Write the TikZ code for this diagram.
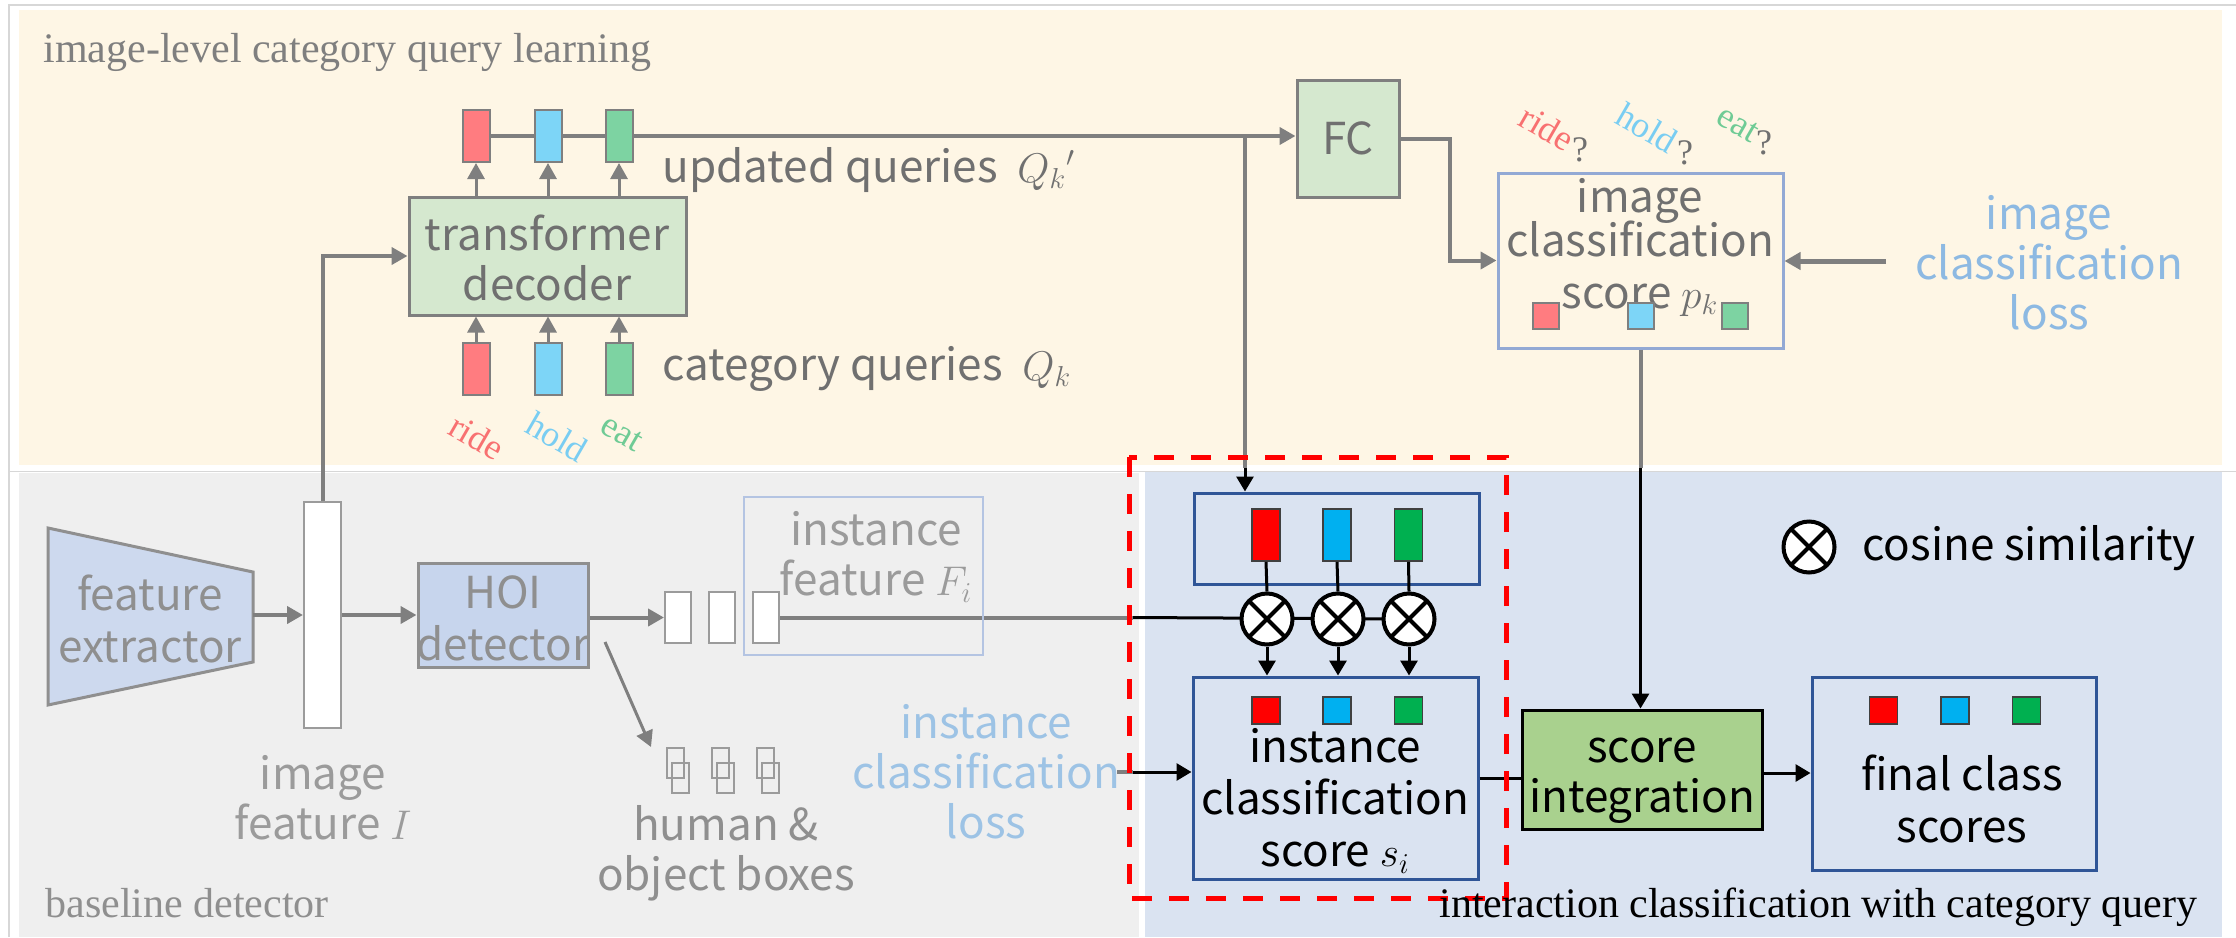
\documentclass[tikz,border=0pt]{standalone}
\usepackage{fontspec}
\usetikzlibrary{arrows.meta,fit,calc}
\newfontfamily\mysansfam{Noto Sans CJK SC}
\newfontfamily\myseriffam{Liberation Serif}
\newcommand\mysans{\mysansfam\fontsize{22}{25}\selectfont}
\newcommand\myserif{\myseriffam\fontsize{21}{24}\selectfont}
\newcommand\mysmall{\myseriffam\fontsize{18}{20}\selectfont}
\definecolor{cream}{RGB}{254,246,229}
\definecolor{bggray}{RGB}{239,239,239}
\definecolor{bgblue}{RGB}{218,227,241}
\definecolor{framec}{RGB}{215,215,215}
\definecolor{gline}{RGB}{127,127,127}
\definecolor{gtop}{RGB}{112,112,112}
\definecolor{gbase}{RGB}{143,143,143}
\definecolor{glight}{RGB}{155,155,155}
\definecolor{lossA}{RGB}{141,185,226}
\definecolor{lossB}{RGB}{157,195,229}
\definecolor{lgreen}{RGB}{213,232,207}
\definecolor{sgreen}{RGB}{169,209,142}
\definecolor{fefill}{RGB}{205,217,238}
\definecolor{hoifill}{RGB}{199,213,237}
\definecolor{qred}{RGB}{255,124,128}
\definecolor{qblue}{RGB}{125,213,247}
\definecolor{qgreen}{RGB}{125,211,162}
\definecolor{tred}{RGB}{248,113,113}
\definecolor{tblue}{RGB}{121,205,242}
\definecolor{tgreen}{RGB}{111,203,149}
\definecolor{dblue}{RGB}{47,85,151}
\definecolor{icsb}{RGB}{147,169,212}
\definecolor{ifb}{RGB}{180,196,226}
\definecolor{sred}{RGB}{255,0,0}
\definecolor{sblue}{RGB}{0,176,240}
\definecolor{sgr}{RGB}{0,176,80}
\pgfdeclarelayer{bg}
\pgfdeclarelayer{back}
\pgfsetlayers{bg,back,main}
\tikzset{
  gl/.style={draw=gline, line width=2pt},
  garrow/.style={gl, -{Triangle[length=8pt,width=8.5pt]}},
  bl/.style={draw=black, line width=1.5pt},
  barrow/.style={bl, -{Triangle[length=7.5pt,width=8.5pt]}},
  qbar/.style={draw=gline, line width=1pt, inner sep=0pt, minimum width=13.5pt, minimum height=26pt},
  sbar/.style={draw=black!75, line width=0.8pt, inner sep=0pt},
  gbox/.style={draw=gline, line width=1.5pt, fill=lgreen, inner sep=0pt},
  dbbox/.style={draw=dblue, line width=1.5pt, inner sep=0pt},
  ttop/.style={font=\mysans, text=gtop, align=center, inner sep=0pt},
  tbase/.style={font=\mysans, text=gbase, align=center, inner sep=0pt},
  tblack/.style={font=\mysans, text=black, align=center, inner sep=0pt},
  xcirc/.style={circle, draw=black, line width=2pt, fill=white, minimum size=25.5pt, inner sep=0pt,
    path picture={\draw[line width=2pt] (path picture bounding box.north west) -- (path picture bounding box.south east)
      (path picture bounding box.north east) -- (path picture bounding box.south west);}},
  icon/.style={draw=glight, line width=1pt},
}
\begin{document}
\begin{tikzpicture}[x=0.5pt,y=-0.5pt]
\useasboundingbox (0,0) rectangle (2236,937);
\begin{pgfonlayer}{bg}
\fill[white] (0,0) rectangle (2236,937);
\fill[cream] (19,10) rectangle (2222,465);
\fill[bggray] (19,473) rectangle (1139,937);
\fill[bgblue] (1145,472) rectangle (2222,937);
\draw[framec, line width=0.8pt] (9,937) -- (9,5) -- (2236,5);
\draw[framec, line width=0.8pt] (9,471.5) -- (2236,471.5);
\end{pgfonlayer}

% ---------- top panel ----------
\node[font=\myserif, text=gline, anchor=base west, inner sep=0pt] (ttl) at (43,62) {image-level category query learning};

\node[gbox, fit={(409,197)(686,315)}] (dec) {};
\node[ttop] (dect) at (547,258) {transformer\\decoder};
\foreach \n/\x/\c in {1/476/qred,2/548/qblue,3/619/qgreen}{
  \node[qbar, fill=\c] (u\n) at (\x,136) {};
  \node[qbar, fill=\c] (k\n) at (\x,368.5) {};
  \draw[garrow, line width=1.5pt] (dec.north -| u\n) -- (u\n.south);
  \draw[garrow, line width=1.5pt] (k\n.north) -- (dec.south -| k\n);
}
\node[ttop, anchor=base west] (uq) at (662,182) {updated queries \ $Q_k{}'$};
\node[ttop, anchor=base west] (cq) at (662,380) {category queries \ $Q_k$};
\node[font=\mysmall, text=tred, rotate=-30, inner sep=0pt] (lr) at (477,437) {ride};
\node[font=\mysmall, text=tblue, rotate=-30, inner sep=0pt] (lh) at (557,437) {hold};
\node[font=\mysmall, text=tgreen, rotate=-30, inner sep=0pt] (le) at (622,433) {eat};

\node[gbox, fit={(1297,80)(1399,197)}] (fc) {};
\node[ttop] (fct) at (1348,138) {FC};
\begin{pgfonlayer}{back}
\draw[garrow] (u1.east) -- (u1.east -| fc.west);
\end{pgfonlayer}
\coordinate (br) at (1245,136);
\coordinate (bsplit) at (1245,468);

\node[draw=icsb, line width=1.5pt, inner sep=0pt, fit={(1498,173)(1783,348)}] (ics) {};
\node[ttop] (icst) at (1640,247) {image\\[-3pt]classification\\[1pt]score $p_k$};
\node[qbar, fill=qred, minimum width=13pt, minimum height=13pt] (p1) at (1546,316) {};
\node[qbar, fill=qblue, minimum width=13pt, minimum height=13pt] (p2) at (1640.5,316) {};
\node[qbar, fill=qgreen, minimum width=13pt, minimum height=13pt] (p3) at (1735,316) {};
\draw[garrow] (fc.east) -- ++(49,0) |- (ics.west);

\node[font=\mysmall, text=tred, rotate=-30, inner sep=0pt] (qr) at (1547,128) {ride};
\node[font=\mysmall, text=gtop, inner sep=0pt] (qr2) at (1580,150) {?};
\node[font=\mysmall, text=tblue, rotate=-30, inner sep=0pt] (qh) at (1647,128) {hold};
\node[font=\mysmall, text=gtop, inner sep=0pt] (qh2) at (1685,153) {?};
\node[font=\mysmall, text=tgreen, rotate=-30, inner sep=0pt] (qe) at (1738,124) {eat};
\node[font=\mysmall, text=gtop, inner sep=0pt] (qe2) at (1764,143) {?};

\node[font=\mysans, text=lossA, align=center, inner sep=0pt] (iloss) at (2049,263) {image\\classification\\loss};
\coordinate (la) at (1886,261);
\draw[garrow, line width=2.5pt] (la) -- (ics.east |- la);

% ---------- baseline detector ----------
\draw[draw=gbase, line width=1.5pt, fill=fefill] (48,528) -- (253,572) -- (253,662) -- (48,705) -- cycle;
\node[tbase] (fe) at (150,619) {feature\\[1pt]extractor};
\coordinate (feR) at (253,615);
\node[draw=glight, line width=1pt, fill=white, inner sep=0pt, fit={(304,502)(341,728)}] (imf) {};
\draw[garrow] (feR) -- (feR -| imf.west);
\draw[garrow] (imf.north) |- (dec.west);
\node[draw=gbase, line width=1.5pt, fill=hoifill, inner sep=0pt, fit={(418,563)(588,667)}] (hoi) {};
\node[tbase] (hoit) at (503,618) {HOI\\[1pt]detector};
\draw[garrow] (imf.east |- feR) -- (hoi.west |- feR);
\node[tbase, text=glight] (imft) at (323,798) {image\\feature $I$};

\node[draw=ifb, line width=1pt, inner sep=0pt, fit={(744,497)(983,655)}] (ifbox) {};
\foreach \n/\x in {1/678,2/722,3/766}{
  \node[draw=glight, line width=1pt, fill=white, inner sep=0pt, minimum width=13pt, minimum height=25.5pt] (s\n) at (\x,617.5) {};
}
\node[tbase, text=glight] (ift) at (876,557) {instance\\feature $F_i$};
\draw[garrow] (hoi.east |- s1.west) -- (s1.west);
\coordinate (fsplit) at (1133,617.5);

\coordinate (d1) at (605,642);
\coordinate (d2) at (651,747);
\draw[garrow, line width=1.5pt] (d1) -- (d2);
\foreach \x in {667,712,757}{
  \draw[icon] (\x,748) rectangle ++(17,30);
  \draw[icon] (\x+5,763) rectangle ++(17,30);
}
\node[tbase] (hob) at (726,853) {human \&\\object boxes};
\node[font=\mysans, text=lossB, align=center, inner sep=0pt] (il) at (986,772) {instance\\classification\\loss};
\coordinate (lstart) at (1117,772);
\coordinate (lsplit) at (1133,772);
\node[font=\myserif, text=gbase, anchor=base west, inner sep=0pt] (bdt) at (45,917) {baseline detector};

% ---------- interaction classification ----------
\node[dbbox, fit={(1194,493)(1479,584)}] (emb) {};
\node[dbbox, fit={(1193,677)(1478,879)}] (inst) {};
\foreach \n/\x/\y/\c in {1/1266/1267/sred,2/1337/1338/sblue,3/1408.5/1409/sgr}{
  \node[sbar, fill=\c, minimum width=14pt, minimum height=26pt] (b\n) at (\x,535) {};
  \node[xcirc] (c\n) at (\y,619) {};
  \node[sbar, fill=\c, minimum width=14pt, minimum height=13.5pt] (q\n) at (\x,710.5) {};
  \draw[bl] (b\n.south) -- (c\n.north);
  \draw[barrow] (c\n.south) -- (c\n.south |- inst.north);
}
\begin{pgfonlayer}{back}
\draw[gl] (s3.east) -- (fsplit);
\draw[bl] (fsplit) -- (c3.center);
\end{pgfonlayer}
\draw[gl] (lstart) -- (lsplit);
\draw[barrow] (lsplit) -- (inst.west |- lsplit);
\draw[gl] (br) -- (bsplit);
\draw[barrow] (bsplit) -- (bsplit |- emb.north);

\node[tblack] (instt) at (1335,801) {instance\\[1pt]classification\\[1pt]score $s_i$};
\node[draw=black, line width=1.5pt, fill=sgreen, inner sep=0pt, fit={(1522,710)(1762,829)}] (si) {};
\node[tblack] (sit) at (1642,781) {score\\integration};
\draw[bl] (inst.east) -- (inst.east -| si.west);
\coordinate (psplit) at (1640.5,468);
\draw[gl] (ics.south) -- (psplit);
\draw[barrow] (psplit) -- (psplit |- si.north);

\node[dbbox, fit={(1812,677)(2096,870)}] (fin) {};
\node[sbar, fill=sred, minimum width=14pt, minimum height=13.5pt] (f1) at (1883.5,710.5) {};
\node[sbar, fill=sblue, minimum width=14pt, minimum height=13.5pt] (f2) at (1955,710.5) {};
\node[sbar, fill=sgr, minimum width=14pt, minimum height=13.5pt] (f3) at (2026.5,710.5) {};
\node[tblack] (fint) at (1962,799) {final class\\[1pt]scores};
\draw[barrow] (si.east |- 0,773) -- (fin.west |- 0,773);

\node[xcirc] (lc) at (1809,547) {};
\node[tblack, anchor=west] (lct) at (1862,548) {cosine similarity};

\draw[draw=sred, line width=2.5pt, dash pattern=on 10pt off 8.5pt] (1129,457) rectangle (1506,898);
\node[font=\myserif, text=black, anchor=base west, inner sep=0pt] (ict) at (1439,917) {interaction classification with category query};
\end{tikzpicture}
\end{document}
